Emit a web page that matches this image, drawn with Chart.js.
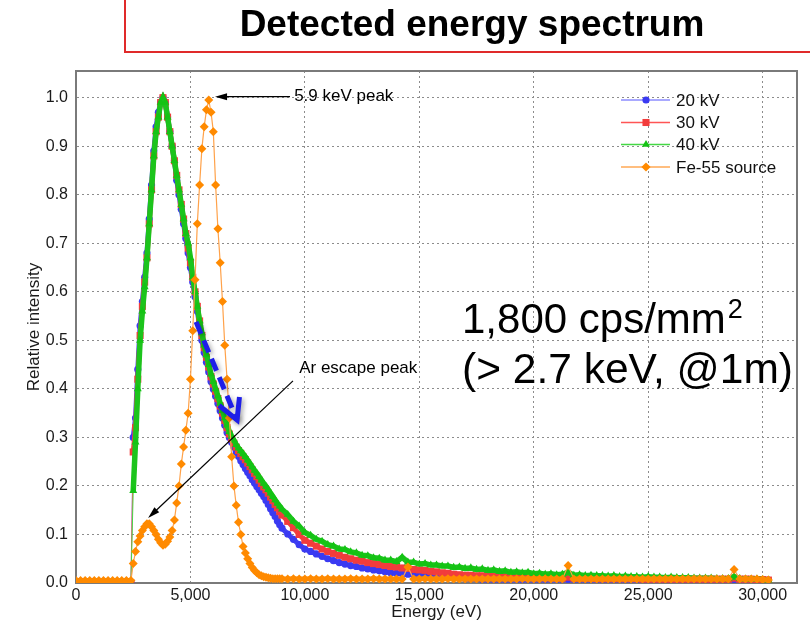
<!DOCTYPE html>
<html>
<head>
<meta charset="utf-8">
<title>Detected energy spectrum</title>
<script src="https://cdn.jsdelivr.net/npm/chart.js@4.4.1/dist/chart.umd.min.js"></script>
<style>
  html, body { margin: 0; padding: 0; background: #fff; }
  canvas { display: block; }
</style>
</head>
<body>
<canvas id="spectrum" width="810" height="628"></canvas>
<script>
// energy bins in eV, shared by every spectrum
const energy = [
  0, 200, 400, 600, 800, 1000, 1200, 1400, 1600, 1800, 2000, 2200, 2400,
  2500, 2600, 2700, 2800, 2900, 3000, 3100, 3200, 3300, 3400,
  3500, 3600, 3700, 3800, 3900, 4000, 4100, 4200, 4300, 4400,
  4500, 4600, 4700, 4800, 4900, 5000, 5100, 5200, 5300, 5400,
  5500, 5600, 5700, 5800, 5900, 6000, 6100, 6200, 6300, 6400,
  6500, 6600, 6700, 6800, 6900, 7000, 7100, 7200, 7300, 7400,
  7500, 7600, 7700, 7800, 7900, 8000, 8100, 8200, 8300, 8400,
  8500, 8600, 8700, 8800, 8900, 9000,
  9250, 9500, 9750, 10000, 10250, 10500, 10750, 11000, 11250, 11500,
  11750, 12000, 12250, 12500, 12750, 13000, 13250, 13500, 13750, 14000,
  14250, 14500, 14750, 15000, 15250, 15500, 15750, 16000, 16250, 16500,
  16750, 17000, 17250, 17500, 17750, 18000, 18250, 18500, 18750, 19000,
  19250, 19500, 19750, 20000, 20250, 20500, 20750, 21000, 21250, 21500,
  21750, 22000, 22250, 22500, 22750, 23000, 23250, 23500, 23750, 24000,
  24250, 24500, 24750, 25000, 25250, 25500, 25750, 26000, 26250, 26500,
  26750, 27000, 27250, 27500, 27750, 28000, 28250, 28500, 28750, 29000,
  29250, 29500, 29750, 30000, 30250
];

// relative intensity, X-ray tube at 20 kV
const kv20 = [
  0, 0, 0, 0, 0, 0, 0, 0, 0, 0, 0, 0, 0,
  0.30, 0.34, 0.44, 0.53, 0.58, 0.63, 0.68, 0.75, 0.82, 0.89,
  0.94, 0.97, 0.99, 1.00, 0.99, 0.96, 0.93, 0.90, 0.87, 0.83,
  0.80, 0.77, 0.74, 0.71, 0.68, 0.65, 0.62, 0.59, 0.56, 0.53,
  0.50, 0.475, 0.455, 0.435, 0.415, 0.40, 0.385, 0.37, 0.355, 0.34,
  0.325, 0.31, 0.30, 0.29, 0.28, 0.27, 0.261, 0.252, 0.244, 0.236,
  0.228, 0.221, 0.213, 0.206, 0.199, 0.192, 0.185, 0.178, 0.17, 0.162,
  0.153, 0.145, 0.137, 0.128, 0.12, 0.113,
  0.101, 0.09, 0.079, 0.07, 0.065, 0.06, 0.055, 0.05, 0.046, 0.042,
  0.039, 0.036, 0.034, 0.031, 0.029, 0.027, 0.025, 0.023, 0.021, 0.02,
  0.019, 0.018, 0.017, 0.016, 0.015, 0.014, 0.013, 0.012, 0.011, 0.011,
  0.01, 0.009, 0.008, 0.008, 0.007, 0.007, 0.007, 0.007, 0.007, 0.007,
  0.007, 0.007, 0.007, 0.007, 0.007, 0.007, 0.007, 0.007, 0.007, 0.007,
  0.007, 0.007, 0.007, 0.007, 0.007, 0.007, 0.007, 0.007, 0.007, 0.007,
  0.007, 0.007, 0.007, 0.007, 0.007, 0.007, 0.007, 0.007, 0.007, 0.007,
  0.007, 0.007, 0.007, 0.007, 0.007, 0.007, 0.007, 0.007, 0.007, 0.007,
  0.007, 0.007, 0.007, 0.006, 0.006
];

// 30 kV
const kv30 = [
  0, 0, 0, 0, 0, 0, 0, 0, 0, 0, 0, 0, 0,
  0.27, 0.32, 0.42, 0.51, 0.57, 0.62, 0.67, 0.74, 0.81, 0.88,
  0.93, 0.96, 0.99, 1.00, 0.99, 0.96, 0.93, 0.90, 0.87, 0.84,
  0.81, 0.78, 0.75, 0.72, 0.69, 0.66, 0.63, 0.60, 0.57, 0.54,
  0.51, 0.485, 0.465, 0.445, 0.425, 0.41, 0.395, 0.38, 0.365, 0.35,
  0.335, 0.32, 0.307, 0.297, 0.288, 0.28, 0.273, 0.267, 0.26, 0.254,
  0.247, 0.24, 0.233, 0.226, 0.219, 0.212, 0.205, 0.198, 0.192, 0.185,
  0.177, 0.17, 0.162, 0.155, 0.147, 0.14,
  0.127, 0.114, 0.1, 0.088, 0.082, 0.076, 0.07, 0.065, 0.061, 0.057,
  0.053, 0.05, 0.047, 0.045, 0.042, 0.04, 0.038, 0.036, 0.034, 0.033,
  0.031, 0.03, 0.028, 0.027, 0.026, 0.024, 0.023, 0.021, 0.02, 0.018,
  0.017, 0.016, 0.016, 0.015, 0.015, 0.015, 0.014, 0.014, 0.014, 0.013,
  0.013, 0.013, 0.012, 0.012, 0.012, 0.011, 0.011, 0.011, 0.01, 0.012,
  0.01, 0.01, 0.01, 0.01, 0.009, 0.009, 0.009, 0.009, 0.009, 0.009,
  0.009, 0.009, 0.008, 0.008, 0.008, 0.008, 0.008, 0.008, 0.008, 0.008,
  0.008, 0.008, 0.008, 0.008, 0.008, 0.008, 0.008, 0.008, 0.01, 0.008,
  0.008, 0.008, 0.007, 0.007, 0.006
];

// 40 kV
const kv40 = [
  0, 0, 0, 0, 0, 0, 0, 0, 0, 0, 0, 0, 0,
  0.19, 0.29, 0.40, 0.50, 0.56, 0.61, 0.67, 0.74, 0.81, 0.88,
  0.93, 0.96, 0.99, 1.00, 0.99, 0.96, 0.93, 0.90, 0.87, 0.84,
  0.81, 0.78, 0.75, 0.72, 0.70, 0.67, 0.63, 0.60, 0.57, 0.54,
  0.515, 0.49, 0.47, 0.45, 0.43, 0.415, 0.40, 0.385, 0.37, 0.355,
  0.34, 0.325, 0.312, 0.302, 0.294, 0.285, 0.278, 0.272, 0.266, 0.26,
  0.253, 0.246, 0.239, 0.232, 0.226, 0.219, 0.212, 0.205, 0.199, 0.192,
  0.185, 0.178, 0.171, 0.164, 0.158, 0.152,
  0.141, 0.127, 0.117, 0.104, 0.098, 0.09, 0.086, 0.079, 0.076, 0.07,
  0.069, 0.064, 0.062, 0.057, 0.056, 0.052, 0.051, 0.047, 0.047, 0.044,
  0.053, 0.043, 0.043, 0.039, 0.04, 0.037, 0.037, 0.035, 0.035, 0.032,
  0.033, 0.03, 0.031, 0.028, 0.029, 0.026, 0.027, 0.024, 0.025, 0.022,
  0.023, 0.021, 0.022, 0.019, 0.02, 0.018, 0.019, 0.017, 0.018, 0.022,
  0.016, 0.017, 0.015, 0.016, 0.015, 0.015, 0.014, 0.015, 0.013, 0.014,
  0.013, 0.013, 0.012, 0.013, 0.012, 0.012, 0.011, 0.012, 0.011, 0.011,
  0.011, 0.01, 0.01, 0.01, 0.01, 0.009, 0.009, 0.009, 0.013, 0.009,
  0.008, 0.008, 0.008, 0.007, 0.006
];

// Fe-55 source (5.9 keV line + Ar escape peak)
const fe55 = [
  0.005, 0.005, 0.005, 0.005, 0.005, 0.005, 0.005, 0.005, 0.005, 0.005, 0.005, 0.005, 0.005,
  0.04, 0.065, 0.085, 0.097, 0.108, 0.116, 0.122, 0.122, 0.116, 0.108,
  0.1, 0.09, 0.083, 0.078, 0.08, 0.086, 0.095, 0.108, 0.13, 0.165,
  0.2, 0.245, 0.28, 0.315, 0.35, 0.42, 0.52, 0.625, 0.74, 0.82,
  0.895, 0.94, 0.975, 0.995, 0.97, 0.93, 0.82, 0.73, 0.66, 0.58,
  0.49, 0.42, 0.34, 0.26, 0.2, 0.16, 0.125, 0.1, 0.075, 0.062,
  0.05, 0.04, 0.032, 0.026, 0.021, 0.017, 0.015, 0.013, 0.012, 0.011,
  0.01, 0.009, 0.009, 0.009, 0.009, 0.009,
  0.008, 0.009, 0.008, 0.008, 0.009, 0.008, 0.008, 0.009, 0.008, 0.008,
  0.008, 0.009, 0.008, 0.008, 0.008, 0.009, 0.008, 0.008, 0.008, 0.008,
  0.008, 0.033, 0.008, 0.008, 0.009, 0.008, 0.008, 0.008, 0.009, 0.008,
  0.008, 0.008, 0.008, 0.008, 0.008, 0.008, 0.008, 0.008, 0.008, 0.008,
  0.008, 0.009, 0.008, 0.008, 0.008, 0.009, 0.008, 0.008, 0.008, 0.036,
  0.008, 0.008, 0.008, 0.008, 0.008, 0.008, 0.008, 0.008, 0.008, 0.008,
  0.008, 0.008, 0.008, 0.008, 0.008, 0.008, 0.008, 0.008, 0.008, 0.008,
  0.008, 0.008, 0.008, 0.008, 0.008, 0.008, 0.008, 0.008, 0.028, 0.008,
  0.008, 0.008, 0.008, 0.007, 0.006
];

const seriesNames = ['20 kV', '30 kV', '40 kV', 'Fe-55 source'];
const xTicks = [0, 5000, 10000, 15000, 20000, 25000, 30000];

const FONT = "'Liberation Sans', Arial, Helvetica, sans-serif";
Chart.defaults.font.family = FONT;
Chart.defaults.color = '#1a1a1a';

// marker colour, legend line colour, shape, and colour/width of the plotted trace
const styles = [
  { marker: '#3a3af2', line: '#8c8cff', shape: 'circle',   r: 3.6, trace: '#4444f2', w: 5 },
  { marker: '#f23c3c', line: '#ff5555', shape: 'rect',     r: 5,   trace: '#f24545', w: 5 },
  { marker: '#14c314', line: '#45d845', shape: 'triangle', r: 4.6, trace: '#1cc41c', w: 5.5 },
  { marker: '#ff8a00', line: '#ffa955', shape: 'rectRot',  r: 4.5, trace: '#ffa24a', w: 1.2 }
];

const toPoints = vals => energy.map((e, i) => ({ x: e, y: vals[i] }));

const datasets = [kv20, kv30, kv40, fe55].map((vals, i) => {
  const st = styles[i];
  const fe = i === 3;
  return {
    label: seriesNames[i],
    data: toPoints(vals),
    borderColor: st.trace,
    borderWidth: st.w,
    segment: {
      // thin jump at the detection threshold; dense flat floor of the Fe-55 run
      borderWidth: c => {
        if (!fe && c.p0.parsed.y === 0) return 1;
        if (fe && c.p0.parsed.y < 0.015 && c.p1.parsed.y < 0.015) return 5;
        return undefined;
      },
      borderColor: c => {
        if (!fe && c.p0.parsed.y === 0) return st.line;
        if (fe && c.p0.parsed.y < 0.015 && c.p1.parsed.y < 0.015) return st.marker;
        return undefined;
      }
    },
    pointStyle: st.shape,
    pointRadius: st.r,
    pointBackgroundColor: st.marker,
    pointBorderWidth: 0,
    tension: 0,
    order: 4 - i   // Fe-55 on top, then 40, 30, 20 kV
  };
});

function arrowHead(ctx, x1, y1, x2, y2, len, half) {
  const a = Math.atan2(y2 - y1, x2 - x1);
  const bx = x2 - len * Math.cos(a), by = y2 - len * Math.sin(a);
  ctx.beginPath();
  ctx.moveTo(x2, y2);
  ctx.lineTo(bx + half * Math.sin(a), by - half * Math.cos(a));
  ctx.lineTo(bx - half * Math.sin(a), by + half * Math.cos(a));
  ctx.closePath();
  ctx.fill();
}

function marker(ctx, shape, x, y, r, color) {
  ctx.fillStyle = color;
  ctx.beginPath();
  if (shape === 'circle') {
    ctx.arc(x, y, r, 0, Math.PI * 2);
  } else if (shape === 'rect') {
    const s = r * Math.SQRT1_2;
    ctx.rect(x - s, y - s, 2 * s, 2 * s);
  } else if (shape === 'triangle') {
    ctx.moveTo(x, y - r);
    ctx.lineTo(x + r * 0.866, y + r * 0.5);
    ctx.lineTo(x - r * 0.866, y + r * 0.5);
    ctx.closePath();
  } else {
    ctx.moveTo(x, y - r);
    ctx.lineTo(x + r, y);
    ctx.lineTo(x, y + r);
    ctx.lineTo(x - r, y);
    ctx.closePath();
  }
  ctx.fill();
}

const decorations = {
  id: 'decorations',
  beforeDatasetsDraw(chart) {
    // top and right frame lines
    const { ctx, chartArea: a } = chart;
    ctx.save();
    ctx.strokeStyle = '#7a7a7a';
    ctx.lineWidth = 2;
    ctx.beginPath();
    ctx.moveTo(a.left, a.top);
    ctx.lineTo(a.right, a.top);
    ctx.lineTo(a.right, a.bottom);
    ctx.stroke();
    ctx.restore();
  },
  afterDatasetsDraw(chart) {
    const { ctx } = chart;
    const X = v => chart.scales.x.getPixelForValue(v);
    const Y = v => chart.scales.y.getPixelForValue(v);

    ctx.save();

    // title box
    ctx.strokeStyle = '#e02a2a';
    ctx.lineWidth = 2;
    ctx.strokeRect(125, -10, 700, 62);
    ctx.fillStyle = '#000';
    ctx.font = 'bold 37px ' + FONT;
    ctx.textAlign = 'center';
    ctx.textBaseline = 'alphabetic';
    ctx.fillText('Detected energy spectrum', 472, 36);

    // 5.9 keV peak callout
    ctx.strokeStyle = '#000';
    ctx.fillStyle = '#000';
    ctx.lineWidth = 1.2;
    let x1 = X(9350), y1 = Y(1.002), x2 = X(6075), y2 = Y(1.002);
    ctx.beginPath(); ctx.moveTo(x1, y1); ctx.lineTo(x2 + 8, y2); ctx.stroke();
    arrowHead(ctx, x1, y1, x2, y2, 12, 3.5);
    ctx.font = '17px ' + FONT;
    ctx.textAlign = 'left';
    ctx.textBaseline = 'middle';
    ctx.fillText('5.9 keV peak', X(9530), Y(1.002));

    // Ar escape peak callout
    x1 = X(9480); y1 = Y(0.4165); x2 = X(3150); y2 = Y(0.134);
    const a = Math.atan2(y2 - y1, x2 - x1);
    ctx.beginPath(); ctx.moveTo(x1, y1); ctx.lineTo(x2 - 8 * Math.cos(a), y2 - 8 * Math.sin(a)); ctx.stroke();
    arrowHead(ctx, x1, y1, x2, y2, 12, 3.5);
    ctx.fillText('Ar escape peak', X(9750), Y(0.443));

    // blue dashed arrow along the falling edge
    const sx = X(5245), sy = Y(0.538), tx = X(7037), ty = Y(0.336);
    ctx.strokeStyle = '#1e1ee8';
    ctx.lineWidth = 5;
    ctx.shadowColor = 'rgba(0,0,0,0.35)';
    ctx.shadowBlur = 5;
    ctx.shadowOffsetX = 2;
    ctx.shadowOffsetY = 2;
    ctx.setLineDash([13, 7]);
    ctx.beginPath(); ctx.moveTo(sx, sy); ctx.lineTo(tx, ty); ctx.stroke();
    ctx.setLineDash([]);
    const back = Math.atan2(sy - ty, sx - tx), arm = 23, spread = 0.5;
    ctx.beginPath();
    ctx.moveTo(tx + arm * Math.cos(back - spread), ty + arm * Math.sin(back - spread));
    ctx.lineTo(tx, ty);
    ctx.lineTo(tx + arm * Math.cos(back + spread), ty + arm * Math.sin(back + spread));
    ctx.stroke();
    ctx.shadowColor = 'transparent';

    // rate note
    ctx.fillStyle = '#000';
    ctx.textBaseline = 'alphabetic';
    ctx.font = '42px ' + FONT;
    ctx.fillText('1,800 cps/mm', 462, 333);
    const w = ctx.measureText('1,800 cps/mm').width;
    ctx.font = '27px ' + FONT;
    ctx.fillText('2', 462 + w + 2, 318);
    ctx.font = '42.5px ' + FONT;
    ctx.fillText('(> 2.7 keV, @1m)', 462, 383);

    // legend
    const rows = [100, 122.5, 144.5, 167];
    ctx.font = '17px ' + FONT;
    ctx.textBaseline = 'middle';
    rows.forEach((ry, i) => {
      const st = styles[i];
      ctx.strokeStyle = st.line;
      ctx.lineWidth = 1.5;
      ctx.beginPath(); ctx.moveTo(621, ry); ctx.lineTo(670, ry); ctx.stroke();
      marker(ctx, st.shape, 646, ry, i === 3 ? 4.6 : st.r, st.marker);
      ctx.fillStyle = '#111';
      ctx.fillText(seriesNames[i], 676, ry + 1);
    });

    ctx.restore();
  }
};

new Chart(document.getElementById('spectrum'), {
  type: 'line',
  data: { datasets },
  options: {
    responsive: false,
    animation: false,
    events: [],
    layout: { padding: { top: 71, right: 13, left: 0, bottom: 0 } },
    plugins: {
      legend: { display: false },
      tooltip: { enabled: false },
      title: { display: false }
    },
    scales: {
      x: {
        type: 'linear',
        min: 0,
        max: 31500,
        afterFit(scale) { scale.height = 45; },
        afterBuildTicks(scale) { scale.ticks = xTicks.map(v => ({ value: v })); },
        ticks: {
          maxRotation: 0,
          autoSkip: false,
          padding: 3,
          font: { size: 16 },
          color: '#1a1a1a',
          callback: v => v.toLocaleString('en-US')
        },
        grid: { color: '#8c8c8c', lineWidth: 1, drawTicks: false },
        border: { display: true, color: '#7a7a7a', width: 2, dash: [2, 3] },
        title: {
          display: true,
          text: 'Energy (eV)',
          font: { size: 17 },
          color: '#1a1a1a',
          padding: { top: 0, bottom: 5 }
        }
      },
      y: {
        type: 'linear',
        min: 0,
        max: 1.055,
        afterFit(scale) { scale.width = 76; },
        ticks: {
          stepSize: 0.1,
          includeBounds: false,
          padding: 8,
          font: { size: 16 },
          color: '#1a1a1a',
          callback: v => v.toFixed(1)
        },
        grid: { color: '#8c8c8c', lineWidth: 1, drawTicks: false },
        border: { display: true, color: '#7a7a7a', width: 2, dash: [2, 3] },
        title: {
          display: true,
          text: 'Relative intensity',
          font: { size: 17 },
          color: '#1a1a1a',
          padding: { top: 24, bottom: 0 }
        }
      }
    }
  },
  plugins: [decorations]
});
</script>
</body>
</html>
